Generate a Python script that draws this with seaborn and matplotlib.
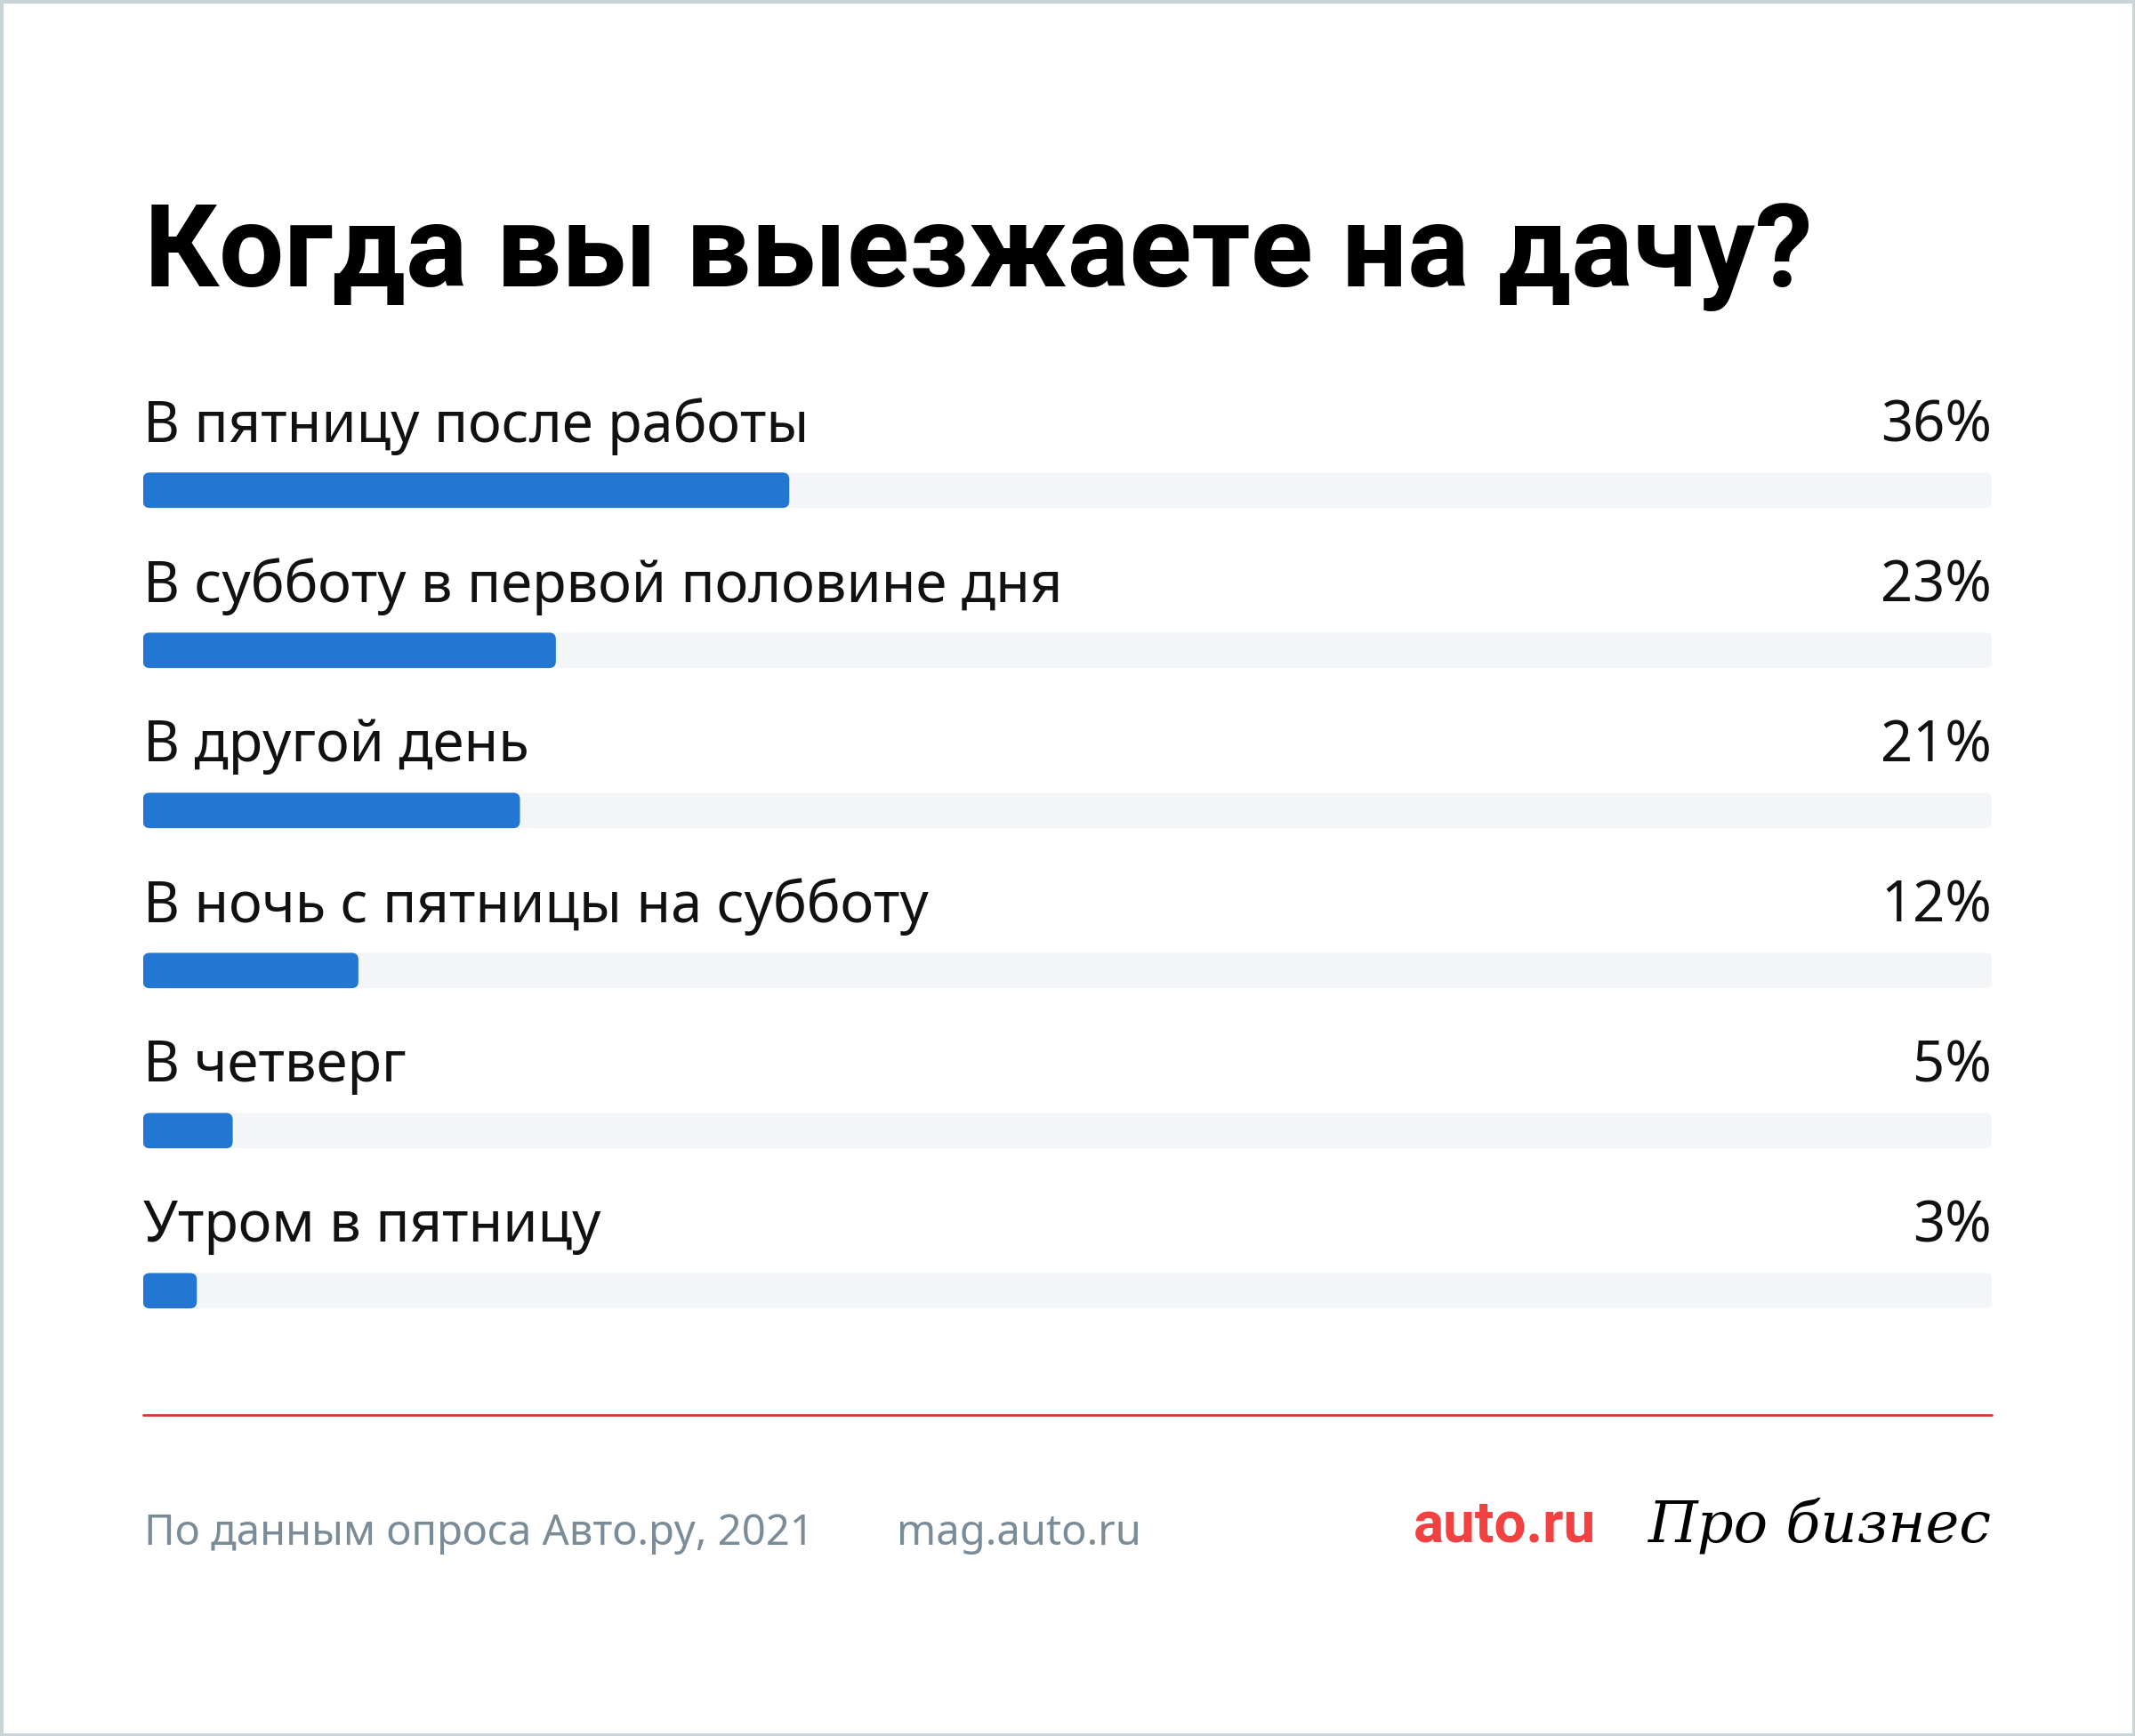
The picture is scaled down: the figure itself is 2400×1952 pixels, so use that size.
import matplotlib
matplotlib.use("Agg")
import matplotlib.pyplot as plt
import seaborn as sns
import pandas as pd
from matplotlib.patches import FancyBboxPatch, Rectangle

# data
answers = [
    "В пятницу после работы",
    "В субботу в первой половине дня",
    "В другой день",
    "В ночь с пятницы на субботу",
    "В четверг",
    "Утром в пятницу",
]
shares = [36, 23, 21, 12, 5, 3]
title = "Когда вы выезжаете на дачу?"
source = "По данным опроса Авто.ру, 2021"
site = "mag.auto.ru"

df = pd.DataFrame({"answer": answers, "share": shares})

BLUE = "#2476d3"
TRACK = "#f4f5f7"
GRAY = "#7b8c99"
RED = "#d63a35"

sns.set_theme(style="white")
plt.rcParams["font.family"] = ["Noto Sans", "DejaVu Sans"]
BOLD = ["Roboto", "DejaVu Sans"]

W, H = 2400, 1952
fig = plt.figure(figsize=(W / 100, H / 100), dpi=100)
fig.patch.set_facecolor("white")

# thin frame round the card
fig.add_artist(Rectangle((0, 0), 1, 1, transform=fig.transFigure, fill=False,
                         edgecolor="#c9d4d7", linewidth=5))

ax = fig.add_axes([0.06696, 0.2196, 0.8661, 0.5718])
xmax = 103
sns.barplot(data=df, y="answer", x="share", orient="h", color=BLUE,
            width=0.221, saturation=1, ax=ax)
ax.set_xlim(0, xmax)
ax.set_ylim(5.4, -0.8)
ax.axis("off")

# rounded corners: radius in pixels converted to data units
fig.canvas.draw()
bbox = ax.get_window_extent()
px_x = bbox.width / xmax
px_y = bbox.height / 6.2
rad_px = 7.5
aspect = (1 / px_y) / (1 / px_x)
r = rad_px / px_x

bars = list(ax.patches)
for i, p in enumerate(bars):
    x0, y0, w, h = p.get_x(), p.get_y(), p.get_width(), p.get_height()
    p.remove()
    track = FancyBboxPatch((0, y0), xmax, h, boxstyle=f"round,pad=0,rounding_size={r}",
                           mutation_aspect=aspect, facecolor=TRACK, edgecolor="none",
                           zorder=1)
    ax.add_patch(track)
    bar = FancyBboxPatch((x0, y0), w, h, boxstyle=f"round,pad=0,rounding_size={r}",
                         mutation_aspect=aspect, facecolor=BLUE, edgecolor="none",
                         zorder=2)
    ax.add_patch(bar)
    yc = y0 + h / 2
    ax.text(0, yc - 0.40, answers[i], ha="left", va="center", fontsize=45.5,
            color="#111111")
    ax.text(xmax, yc - 0.40, f"{shares[i]}%", ha="right", va="center", fontsize=45.5,
            color="#111111")

fig.text(0.0675, 0.835, title, ha="left", va="baseline", fontsize=93.5,
         family=BOLD, fontweight="bold", color="black")

# red divider
fig.add_artist(plt.Line2D([0.06696, 0.9330], [1 - 1039 / 1275] * 2,
                          transform=fig.transFigure, color=RED, linewidth=2))

fig.text(0.0675, 0.110, source, ha="left", va="baseline", fontsize=34, color=GRAY)
fig.text(0.420, 0.110, site, ha="left", va="baseline", fontsize=34, color=GRAY)
fig.text(0.662, 0.112, "auto.ru", ha="left", va="baseline", fontsize=46,
         family=BOLD, fontweight="bold", color="#f24141")
fig.text(0.933, 0.112, "Про бизнес", ha="right", va="baseline", fontsize=46,
         family=["DejaVu Serif"], fontstyle="italic", color="black")

fig.savefig("out.png", dpi=100, facecolor="white")
